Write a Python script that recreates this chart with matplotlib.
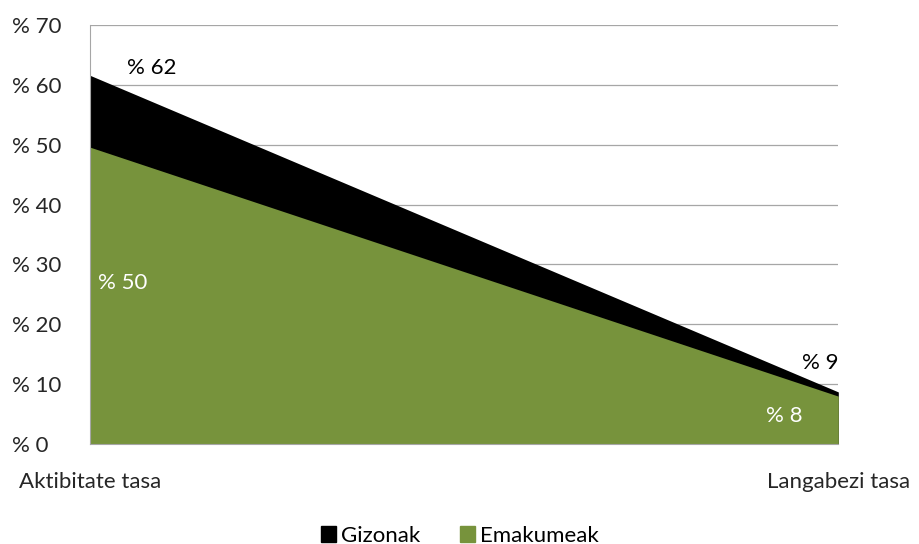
import matplotlib
matplotlib.use('Agg')
import matplotlib.pyplot as plt
from matplotlib.patches import Patch

# data
categories = ['Aktibitate tasa', 'Langabezi tasa']
gizonak = [61.6, 8.7]
emakumeak = [49.6, 8.0]
gizonak_labels = ['% 62', '% 9']
emakumeak_labels = ['% 50', '% 8']
y_ticks = [0, 10, 20, 30, 40, 50, 60, 70]

plt.rcParams['font.family'] = ['Lato', 'DejaVu Sans']
FS = 16

fig = plt.figure(figsize=(9.19, 5.44), dpi=100)
ax = fig.add_axes([0.0979, 0.1838, 0.8143, 0.7702])

x = list(range(len(categories)))
black = '#000000'
green = '#77933c'

ax.fill_between(x, 0, gizonak, color=black, linewidth=0, zorder=2)
ax.fill_between(x, 0, emakumeak, color=green, linewidth=0, zorder=3)

ax.set_xlim(0, 1)
ax.set_ylim(0, 70)
ax.set_yticks(y_ticks)
ax.set_yticklabels([f'% {v}' for v in y_ticks], fontsize=FS, color='#262626')
ax.set_xticks(x)
ax.set_xticklabels(categories, fontsize=FS, color='#262626')
ax.tick_params(axis='both', length=0)
ax.tick_params(axis='x', pad=20)
for lbl in ax.get_yticklabels():
    lbl.set_horizontalalignment('left')
# left-aligned tick labels: pad ~78 px from the spine
ax.tick_params(axis='y', pad=56)

ax.grid(axis='y', color='#a6a6a6', linewidth=0.9, zorder=1)
ax.set_axisbelow(True)
for side in ['top', 'right']:
    ax.spines[side].set_visible(False)
ax.spines['left'].set_color('#a6a6a6')
ax.spines['bottom'].set_color('#a6a6a6')
ax.spines['left'].set_zorder(4)
ax.spines['bottom'].set_zorder(4)

# data labels
ax.annotate(gizonak_labels[0], (x[0], gizonak[0]), xytext=(37, 1), textcoords='offset pixels',
            fontsize=FS, color='#000000', zorder=5)
ax.annotate(emakumeak_labels[0], (x[0], emakumeak[0]), xytext=(8, -142), textcoords='offset pixels',
            fontsize=FS, color='white', zorder=5)
ax.annotate(gizonak_labels[1], (x[1], gizonak[1]), xytext=(-36, 23), textcoords='offset pixels',
            fontsize=FS, color='#000000', zorder=5)
ax.annotate(emakumeak_labels[1], (x[1], emakumeak[1]), xytext=(-72, -26), textcoords='offset pixels',
            fontsize=FS, color='white', zorder=5)

handles = [Patch(color=black, label='Gizonak'), Patch(color=green, label='Emakumeak')]
fig.legend(handles=handles, loc='lower center', bbox_to_anchor=(0.5, -0.04), ncol=2, frameon=False,
           fontsize=FS, handlelength=0.7, handleheight=0.7, handletextpad=0.2, columnspacing=1.8)

fig.savefig('out.png', dpi=100)
